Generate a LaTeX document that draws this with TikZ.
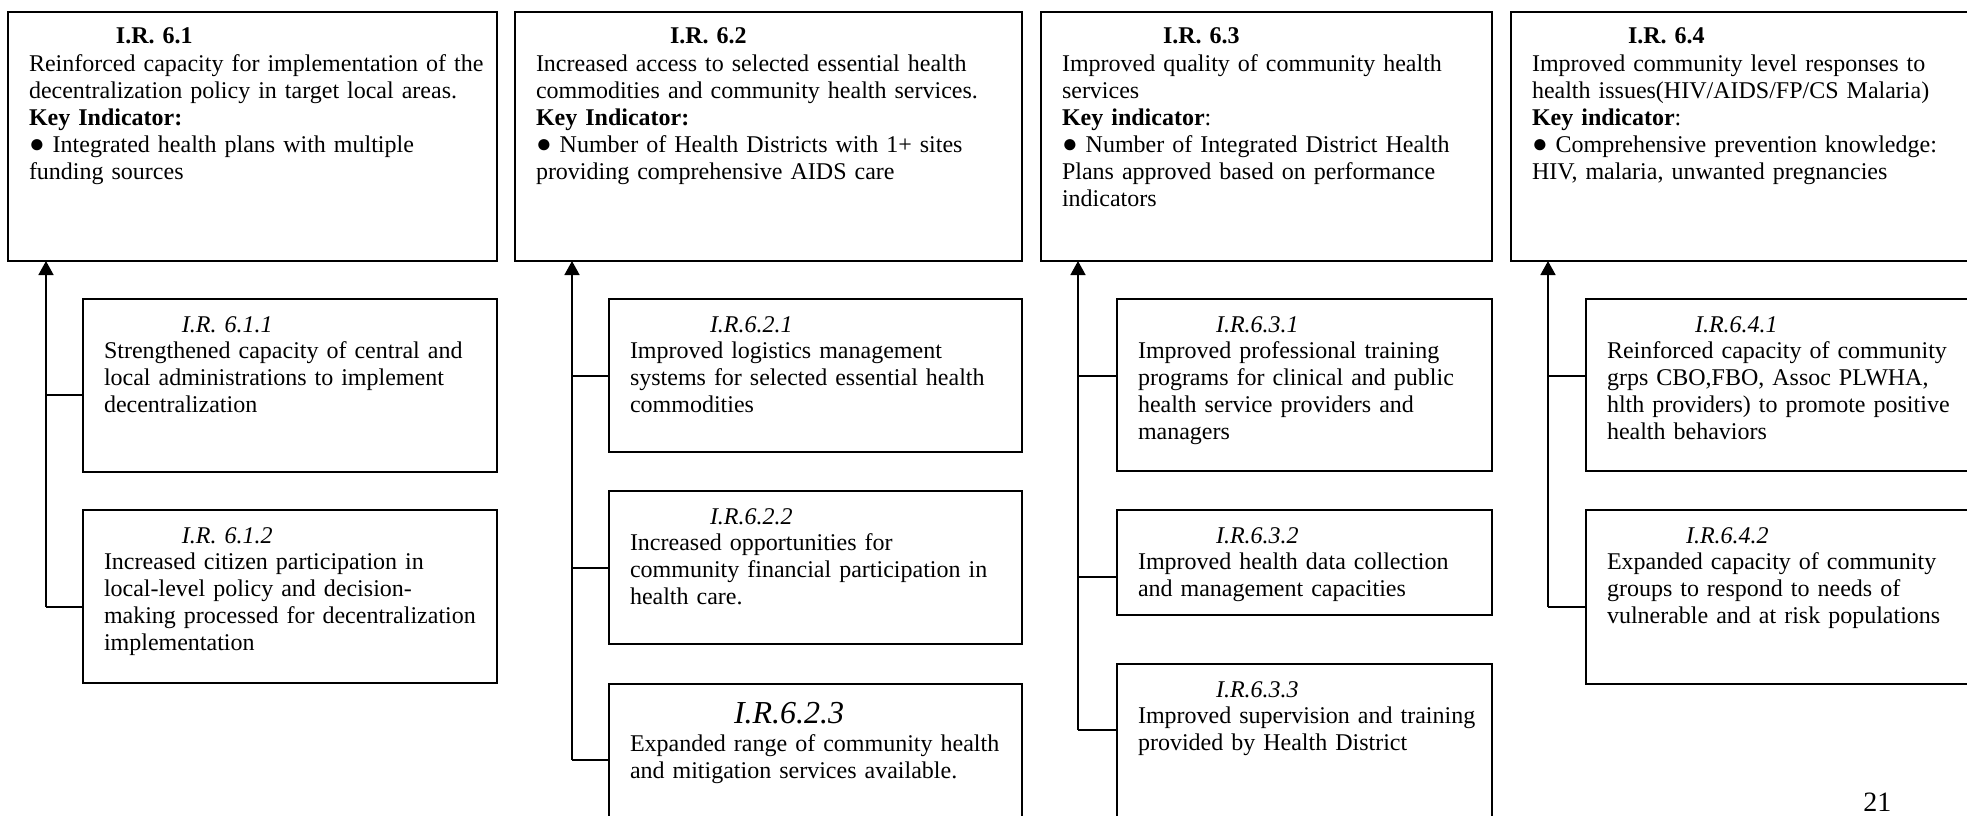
\documentclass[tikz,border=0pt]{standalone}
\usepackage{fontspec}
\setmainfont{Liberation Serif}
\usetikzlibrary{arrows.meta}
\newcommand{\blt}{{\fontsize{13}{13}\selectfont ●}}
\begin{document}
\begin{tikzpicture}[x=0.5pt,y=-0.5pt,
  box/.style={draw, line width=0.8pt, rectangle, inner sep=0pt, outer sep=0pt, anchor=north west},
  txt/.style={anchor=base west, inner sep=0pt, outer sep=0pt, text width=300pt, align=left, font=\fontsize{12}{13.45}\selectfont},
  link/.style={line width=0.8pt},
  arr/.style={line width=0.8pt, -{Triangle[width=7.5pt,length=7pt]}}]
\useasboundingbox (0,0) rectangle (1967,815);
\clip (0,0) rectangle (1967,815);

% ---- top boxes ----
\node[box, minimum width=244.5pt, minimum height=124.5pt] (t1) at (8,12) {};
\node[box, minimum width=253.5pt, minimum height=124.5pt] (t2) at (515,12) {};
\node[box, minimum width=225.5pt, minimum height=124.5pt] (t3) at (1041,12) {};
\node[box, minimum width=244.5pt, minimum height=124.5pt] (t4) at (1511,12) {};

\node[txt] (x1) at ([shift={(21,31)}]t1.north west) {\hspace*{43.5pt}\textbf{I.R. 6.1}\\[1pt]
Reinforced capacity for implementation of the\\
decentralization policy in target local areas.\\
\textbf{Key Indicator:}\\
\blt{} Integrated health plans with multiple\\
funding sources};
\node[txt] (x2) at ([shift={(21,31)}]t2.north west) {\hspace*{67pt}\textbf{I.R. 6.2}\\[1pt]
Increased access to selected essential health\\
commodities and community health services.\\
\textbf{Key Indicator:}\\
\blt{} Number of Health Districts with 1+ sites\\
providing comprehensive AIDS care};
\node[txt] (x3) at ([shift={(21,31)}]t3.north west) {\hspace*{50.5pt}\textbf{I.R. 6.3}\\[1pt]
Improved quality of community health\\
services\\
\textbf{Key indicator}:\\
\blt{} Number of Integrated District Health\\
Plans approved based on performance\\
indicators};
\node[txt] (x4) at ([shift={(21,31)}]t4.north west) {\hspace*{48pt}\textbf{I.R. 6.4}\\[1pt]
Improved community level responses to\\
health issues(HIV/AIDS/FP/CS Malaria)\\
\textbf{Key indicator}:\\
\blt{} Comprehensive prevention knowledge:\\
HIV, malaria, unwanted pregnancies};

% ---- column 1 ----
\node[box, minimum width=207pt, minimum height=86.5pt] (s11) at (83,299) {};
\node[box, minimum width=207pt, minimum height=86.5pt] (s12) at (83,510) {};
\node[txt] (y11) at ([shift={(21,33)}]s11.north west) {\hspace*{39pt}\textit{I.R. 6.1.1}\\
Strengthened capacity of central and\\
local administrations to implement\\
decentralization};
\node[txt] (y12) at ([shift={(21,33)}]s12.north west) {\hspace*{39pt}\textit{I.R. 6.1.2}\\
Increased citizen participation in\\
local-level policy and decision-\\
making processed for decentralization\\
implementation};

% ---- column 2 ----
\node[box, minimum width=206.5pt, minimum height=76.5pt] (s21) at (609,299) {};
\node[box, minimum width=206.5pt, minimum height=76.5pt] (s22) at (609,491) {};
\node[box, minimum width=206.5pt, minimum height=90pt] (s23) at (609,684) {};
\node[txt] (y21) at ([shift={(21,33)}]s21.north west) {\hspace*{40pt}\textit{I.R.6.2.1}\\
Improved logistics management\\
systems for selected essential health\\
commodities};
\node[txt] (y22) at ([shift={(21,33)}]s22.north west) {\hspace*{40pt}\textit{I.R.6.2.2}\\
Increased opportunities for\\
community financial participation in\\
health care.};
\node[txt] (y23) at ([shift={(21,39)}]s23.north west) {\hspace*{52pt}{\fontsize{16}{18}\selectfont\textit{I.R.6.2.3}}\\[1pt]
Expanded range of community health\\
and mitigation services available.};

% ---- column 3 ----
\node[box, minimum width=187.5pt, minimum height=86pt] (s31) at (1117,299) {};
\node[box, minimum width=187.5pt, minimum height=52.5pt] (s32) at (1117,510) {};
\node[box, minimum width=187.5pt, minimum height=90pt] (s33) at (1117,664) {};
\node[txt] (y31) at ([shift={(21,33)}]s31.north west) {\hspace*{39pt}\textit{I.R.6.3.1}\\
Improved professional training\\
programs for clinical and public\\
health service providers and\\
managers};
\node[txt] (y32) at ([shift={(21,33)}]s32.north west) {\hspace*{39pt}\textit{I.R.6.3.2}\\
Improved health data collection\\
and management capacities};
\node[txt] (y33) at ([shift={(21,33)}]s33.north west) {\hspace*{39pt}\textit{I.R.6.3.3}\\
Improved supervision and training\\
provided by Health District};

% ---- column 4 ----
\node[box, minimum width=207pt, minimum height=86pt] (s41) at (1586,299) {};
\node[box, minimum width=207pt, minimum height=87pt] (s42) at (1586,510) {};
\node[txt] (y41) at ([shift={(21,33)}]s41.north west) {\hspace*{44pt}\textit{I.R.6.4.1}\\
Reinforced capacity of community\\
grps CBO,FBO, Assoc PLWHA,\\
hlth providers) to promote positive\\
health behaviors};
\node[txt] (y42) at ([shift={(21,33)}]s42.north west) {\hspace*{39.5pt}\textit{I.R.6.4.2}\\
Expanded capacity of community\\
groups to respond to needs of\\
vulnerable and at risk populations};

% ---- page number ----
\node[anchor=base west, inner sep=0pt, font=\fontsize{14}{16}\selectfont] (pg) at (1863,811) {21};

% ---- connectors ----
\coordinate (a11) at (46,395);
\coordinate (a12) at (46,607);
\draw[link] (a11) -- (a11 -| s11.west);
\draw[link] (a12) -- (a12 -| s12.west);
\draw[arr] (a12) -- (t1.south -| a12);

\coordinate (a21) at (572,376);
\coordinate (a22) at (572,568);
\coordinate (a23) at (572,760);
\draw[link] (a21) -- (a21 -| s21.west);
\draw[link] (a22) -- (a22 -| s22.west);
\draw[link] (a23) -- (a23 -| s23.west);
\draw[arr] (a23) -- (t2.south -| a23);

\coordinate (a31) at (1078,376);
\coordinate (a32) at (1078,577);
\coordinate (a33) at (1078,730);
\draw[link] (a31) -- (a31 -| s31.west);
\draw[link] (a32) -- (a32 -| s32.west);
\draw[link] (a33) -- (a33 -| s33.west);
\draw[arr] (a33) -- (t3.south -| a33);

\coordinate (a41) at (1548,376);
\coordinate (a42) at (1548,607);
\draw[link] (a41) -- (a41 -| s41.west);
\draw[link] (a42) -- (a42 -| s42.west);
\draw[arr] (a42) -- (t4.south -| a42);
\end{tikzpicture}
\end{document}
